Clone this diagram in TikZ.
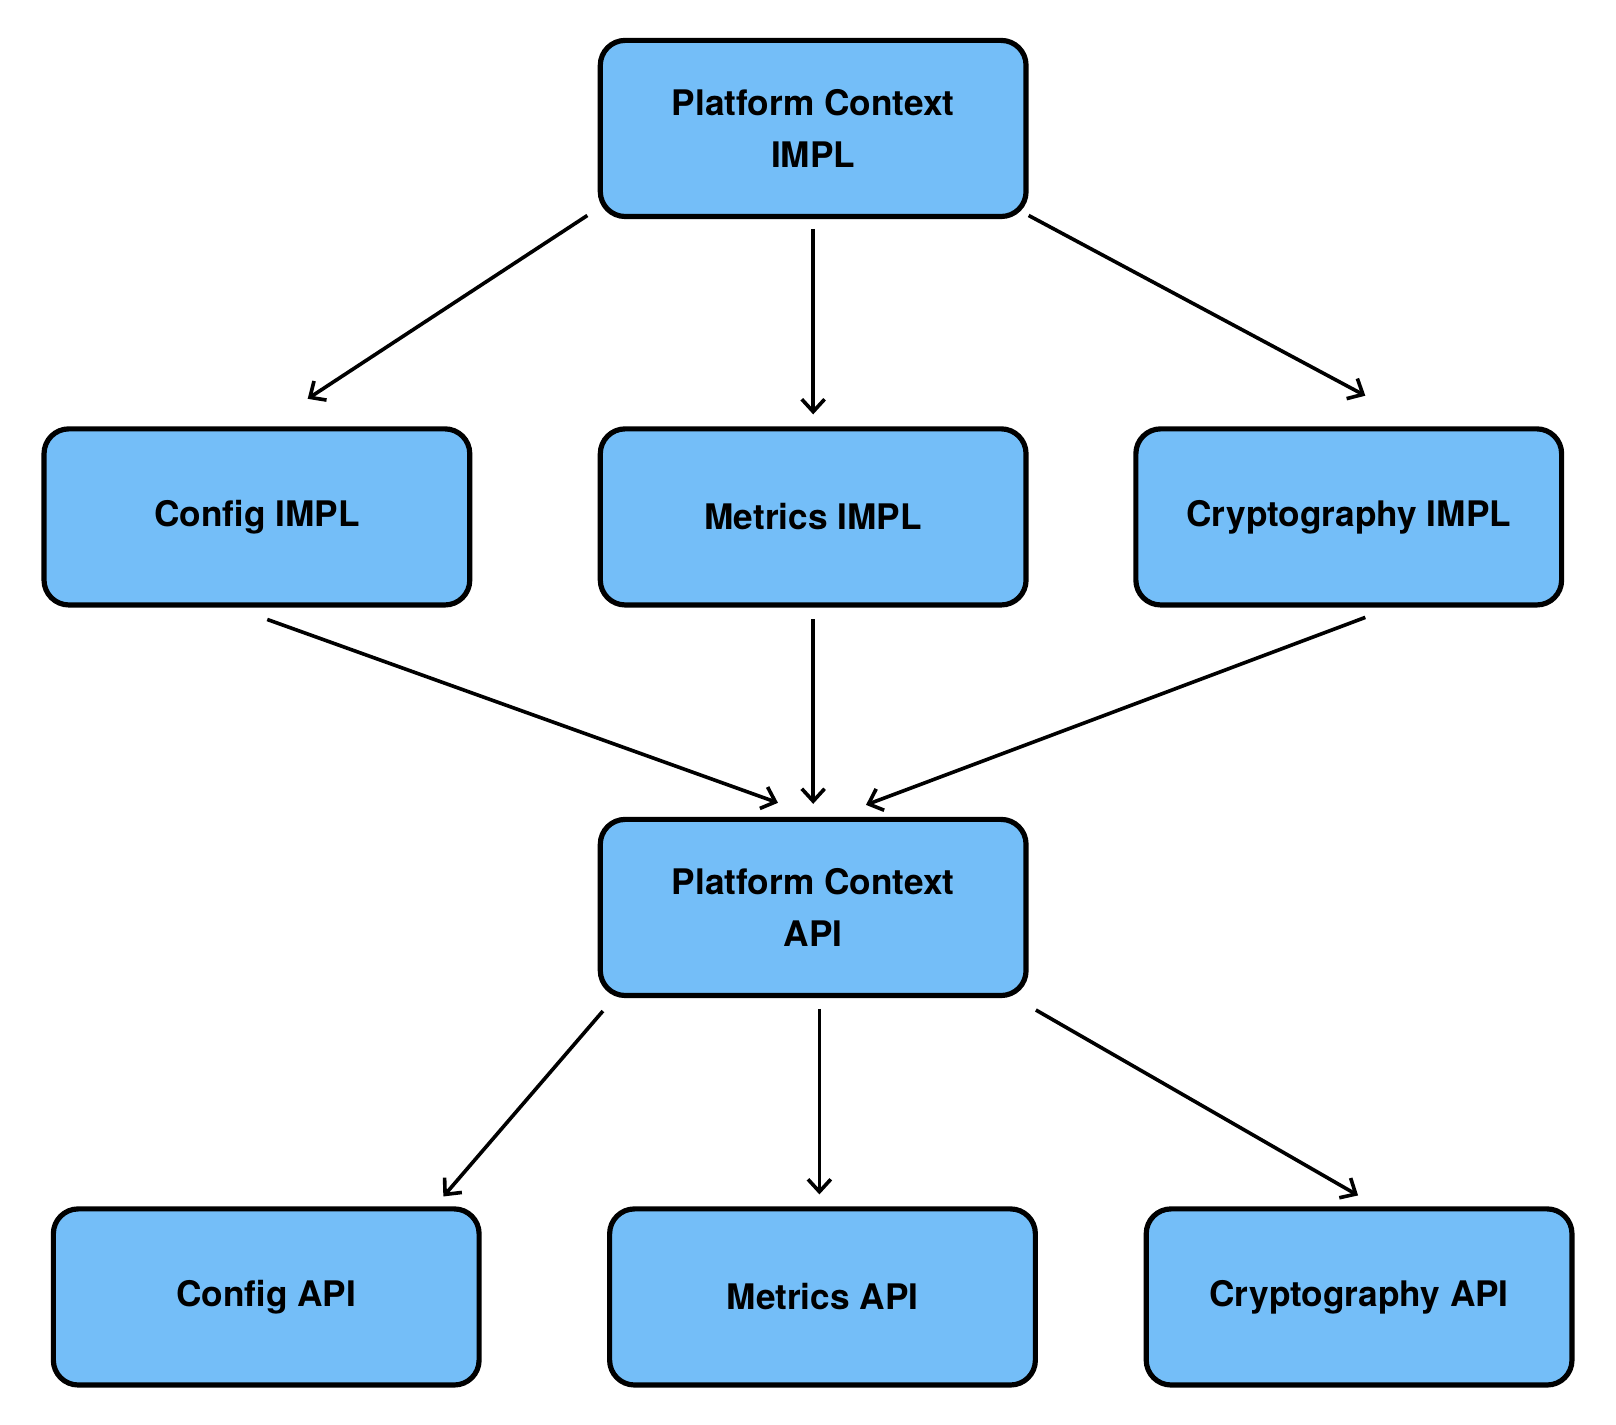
\documentclass[tikz,border=0pt]{standalone}
\usepackage{fontspec}
\setmainfont{TeX Gyre Heros}
\usetikzlibrary{arrows.meta}
\definecolor{boxblue}{HTML}{74BEF8}
\begin{document}
\begin{tikzpicture}[x=1pt,y=-1pt,
  box/.style={draw=black,line width=5pt,fill=boxblue,rounded corners=24pt,minimum width=411pt,minimum height=170pt,align=center,font=\fontsize{34}{50}\selectfont\bfseries},
  arr/.style={line width=3.5pt,-{Straight Barb[length=12pt,width=22pt,line width=3.5pt]}}]
\useasboundingbox (0,0) rectangle (1560,1375);
\node[box] (pci) at (785,124) {Platform Context\\IMPL};
\node[box] (ci) at (248,499) {Config IMPL};
\node[box] (mi) at (785,499) {Metrics IMPL};
\node[box] (cri) at (1302,499) {Cryptography IMPL};
\node[box] (pca) at (785,876) {Platform Context\\API};
\node[box] (ca) at (257,1252) {Config API};
\node[box] (ma) at (794,1252) {Metrics API};
\node[box] (cra) at (1312,1252) {Cryptography API};
\coordinate (a1s) at (567,208); \coordinate (a1e) at (297,385);
\coordinate (a2s) at (785,221); \coordinate (a2e) at (785,400);
\coordinate (a3s) at (993,208); \coordinate (a3e) at (1318,382);
\coordinate (a4s) at (258,598); \coordinate (a4e) at (751,775);
\coordinate (a5s) at (785,598); \coordinate (a5e) at (785,776);
\coordinate (a6s) at (1318,596); \coordinate (a6e) at (836,777);
\coordinate (a7s) at (582,976); \coordinate (a7e) at (428,1155);
\coordinate (a8s) at (791,974); \coordinate (a8e) at (791,1153);
\coordinate (a9s) at (1000,975); \coordinate (a9e) at (1311,1154);
\foreach \i in {1,...,9} \draw[arr] (a\i s) -- (a\i e);
\end{tikzpicture}
\end{document}
